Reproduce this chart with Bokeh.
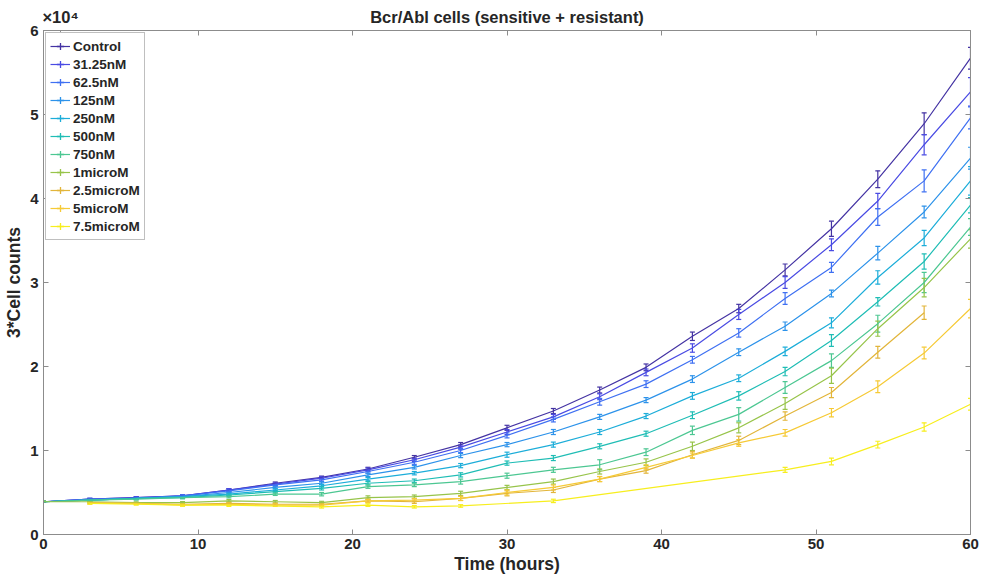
import math
from bokeh.plotting import figure
from bokeh.models import (ColumnDataSource, Whisker, TeeHead, Legend, LegendItem,
                          LinearAxis, FixedTicker, CustomJSTickFormatter, Range1d)
from bokeh.embed import file_html
from bokeh.resources import INLINE

# ---------------- data (cell counts) ----------------
names = ["Control", "31.25nM", "62.5nM", "125nM", "250nM", "500nM", "750nM",
         "1microM", "2.5microM", "5microM", "7.5microM"]
colors = ["#4433A3", "#4A4BE3", "#3F70F2", "#2C92EA", "#1CADD9", "#1FBDB5",
          "#4CC792", "#97C44A", "#E2B53A", "#F6CA36", "#F7EE1E"]

t_full = [0, 3, 6, 9, 12, 15, 18, 21, 24, 27, 30, 33, 36, 39, 42, 45, 48, 51, 54, 57, 60]
t_25 = [3, 6, 9, 12, 15, 18, 21, 24, 27, 30, 33, 36, 39, 42, 45, 48, 51, 54, 57]
t_5 = [3, 6, 9, 12, 15, 18, 21, 24, 27, 30, 33, 36, 39, 42, 45, 48, 51, 54, 57, 60]
t_75 = [3, 6, 9, 12, 18, 21, 24, 27, 33, 48, 51, 54, 57, 60]

control = [3900, 4200, 4400, 4600, 5300, 6100, 6800, 7800, 9200, 10700, 12700, 14700,
           17200, 19900, 23600, 26900, 31500, 36400, 42300, 48900, 56700]
nm31 = [3900, 4200, 4400, 4600, 5300, 6000, 6700, 7700, 8900, 10400, 12200, 14000,
        16400, 19300, 22200, 26200, 30000, 34500, 39700, 46400, 52700]
nm62 = [3900, 4200, 4300, 4600, 5200, 5900, 6500, 7500, 8600, 10000, 11800, 13700,
        15800, 17900, 20800, 24000, 28100, 31800, 37800, 42100, 49600]
nm125 = [3900, 4100, 4300, 4500, 5000, 5600, 6100, 7100, 8000, 9400, 10700, 12200,
         14000, 16000, 18500, 21700, 24800, 28700, 33500, 38400, 44800]
nm250 = [3900, 4100, 4300, 4500, 4800, 5300, 5800, 6600, 7300, 8200, 9500, 10700,
         12200, 14100, 16500, 18600, 21800, 25200, 30600, 35300, 42100]
nm500 = [3900, 4100, 4300, 4400, 4700, 5100, 5500, 6100, 6400, 7100, 8500, 9100,
         10500, 12000, 14200, 16500, 19400, 23100, 27700, 32500, 39200]
nm750 = [3900, 4100, 4200, 4400, 4500, 4800, 4800, 5700, 5900, 6300, 7000, 7700,
         8300, 9800, 12400, 14300, 17500, 20700, 25100, 30000, 36600]
um1 = [3900, 3900, 3800, 3800, 4000, 3900, 3800, 4400, 4500, 4900, 5600, 6300,
       7500, 8600, 10500, 12700, 15600, 18900, 24500, 29400, 35200]
um25 = [3800, 3700, 3600, 3700, 3600, 3600, 4000, 3900, 4300, 4900, 5300, 6600,
        7600, 9500, 11200, 14100, 16900, 21700, 26400]
um5 = [3700, 3700, 3500, 3600, 3500, 3500, 4000, 4100, 4300, 5000, 5600, 6600,
       8000, 9400, 10900, 12100, 14500, 17600, 21600, 26900]
um75 = [3700, 3600, 3500, 3500, 3300, 3500, 3300, 3400, 4000, 7700, 8700, 10700,
        12800, 15500]

err_control = [80, 100, 100, 120, 150, 150, 150, 200, 200, 250, 300, 300, 350, 400,
               500, 500, 700, 900, 1000, 1300, 1300]
err_nm31 = [80, 100, 100, 120, 150, 150, 200, 200, 200, 250, 300, 300, 350, 400,
            500, 600, 700, 700, 900, 1200, 1700]
err_nm62 = [80, 100, 100, 120, 150, 150, 200, 200, 250, 250, 300, 300, 400, 400,
            400, 500, 700, 600, 1000, 1300, 1300]
err_nm125 = [80, 100, 100, 120, 150, 150, 150, 200, 200, 250, 250, 300, 300, 300,
             400, 400, 500, 400, 800, 700, 1300]
err_nm250 = [80, 100, 100, 120, 150, 150, 150, 200, 200, 250, 300, 300, 300, 300,
             400, 400, 500, 600, 800, 900, 1700]
err_nm500 = [80, 100, 100, 120, 150, 150, 200, 200, 200, 250, 250, 300, 300, 300,
             400, 500, 500, 700, 500, 900, 900]
err_nm750 = [80, 100, 100, 120, 150, 150, 200, 200, 200, 300, 300, 300, 600, 400,
             500, 800, 700, 800, 1000, 1200, 1000]
err_um1 = [80, 100, 100, 120, 150, 150, 150, 200, 200, 250, 250, 300, 300, 400,
           500, 600, 700, 900, 900, 1100, 1100]
err_um25 = [100, 100, 120, 150, 150, 150, 200, 200, 250, 300, 300, 300, 300, 400,
            500, 500, 600, 700, 800]
err_um5 = [100, 100, 120, 150, 150, 150, 200, 200, 250, 300, 300, 300, 300, 300,
           400, 400, 500, 700, 700, 1100]
err_um75 = [100, 100, 120, 150, 150, 150, 150, 150, 200, 300, 400, 400, 500, 700]

x_ticks = [0, 10, 20, 30, 40, 50, 60]
y_ticks = [0, 10000, 20000, 30000, 40000, 50000, 60000]
title_text = "Bcr/Abl cells (sensitive + resistant)"
exponent_text = "×10⁴"

series = [
    (t_full, control, err_control), (t_full, nm31, err_nm31), (t_full, nm62, err_nm62),
    (t_full, nm125, err_nm125), (t_full, nm250, err_nm250), (t_full, nm500, err_nm500),
    (t_full, nm750, err_nm750), (t_full, um1, err_um1), (t_25, um25, err_um25),
    (t_5, um5, err_um5), (t_75, um75, err_um75),
]

FONT = "Liberation Sans"
AX = "#8c8c8c"
TXT = "#262626"

p = figure(width=984, height=585, output_backend="svg", toolbar_location=None,
           x_range=Range1d(0, 60), y_range=Range1d(0, 60000),
           min_border_left=43, min_border_right=14, min_border_top=30, min_border_bottom=51)
p.background_fill_color = "white"
p.border_fill_color = "white"
p.outline_line_color = AX
p.xgrid.visible = False
p.ygrid.visible = False

items = []
for name, col, (tt, vv, ee) in zip(names, colors, series):
    src = ColumnDataSource(dict(x=tt, y=vv,
                                lo=[v - e for v, e in zip(vv, ee)],
                                hi=[v + e for v, e in zip(vv, ee)]))
    r = p.line("x", "y", source=src, line_color=col, line_width=1.2)
    w = Whisker(base="x", lower="lo", upper="hi", source=src, line_color=col, line_width=1.2,
                upper_head=TeeHead(size=5, line_color=col, line_width=1.2),
                lower_head=TeeHead(size=5, line_color=col, line_width=1.2))
    p.add_layout(w)
    # legend-only marker (placed outside the visible range) to draw the error-bar icon
    dummy = p.scatter(x=[-100], y=[-100000], marker="cross", size=12,
                      line_color=col, line_width=1.3, fill_color=None)
    items.append(LegendItem(label=name, renderers=[r, dummy]))

# axes
for ax in (p.xaxis[0], p.yaxis[0]):
    ax.axis_line_color = AX
    ax.major_tick_line_color = AX
    ax.major_tick_in = 5
    ax.major_tick_out = 0
    ax.minor_tick_line_color = None
    ax.major_label_text_font = FONT
    ax.major_label_text_font_style = "bold"
    ax.major_label_text_font_size = "15px"
    ax.major_label_text_color = TXT
    ax.axis_label_text_font = FONT
    ax.axis_label_text_font_style = "bold"
    ax.axis_label_text_font_size = "17.5px"
    ax.axis_label_text_color = TXT

p.xaxis.ticker = FixedTicker(ticks=x_ticks)
p.yaxis.ticker = FixedTicker(ticks=y_ticks)
p.yaxis.formatter = CustomJSTickFormatter(code="return (tick/1e4).toFixed(0);")
p.xaxis.axis_label = "Time (hours)"
p.yaxis.axis_label = "3*Cell counts"
p.xaxis.major_label_standoff = 4
p.xaxis.axis_label_standoff = 2
p.yaxis.major_label_standoff = 5
p.yaxis.axis_label_standoff = 3

blank = CustomJSTickFormatter(code="return '';")
right = LinearAxis(ticker=FixedTicker(ticks=y_ticks), formatter=blank,
                   axis_line_color=AX, major_tick_line_color=AX, major_tick_in=5,
                   major_tick_out=0, minor_tick_line_color=None, major_label_standoff=0)
p.add_layout(right, "right")

# top box edge: carries the title (at the centre tick) and the exponent marker
top_ticks = [0, 1.1, 10, 20, 30, 40, 50, 60]
top_fmt = CustomJSTickFormatter(
    args=dict(title=title_text, expo=exponent_text),
    code="""
    if (Math.abs(tick - 30) < 1e-9) return title;
    if (Math.abs(tick - 1.1) < 1e-9) return expo;
    return '';
    """)
top = LinearAxis(ticker=FixedTicker(ticks=top_ticks), formatter=top_fmt,
                 axis_line_color=AX, major_tick_line_color=AX, major_tick_in=5,
                 major_tick_out=0, minor_tick_line_color=None, major_label_standoff=5,
                 major_label_text_font=FONT, major_label_text_font_style="bold",
                 major_label_text_font_size="16.5px", major_label_text_color=TXT)
p.add_layout(top, "above")

legend = Legend(items=items, location="top_left", margin=2, padding=4, spacing=0,
                label_height=18, glyph_height=18, glyph_width=20, label_standoff=3,
                border_line_color="#7f7f7f", border_line_width=1,
                background_fill_color="white", background_fill_alpha=1,
                label_text_font=FONT, label_text_font_style="bold",
                label_text_font_size="13.5px", label_text_color=TXT)
p.add_layout(legend)

open("out.html", "w").write(file_html(p, INLINE))
